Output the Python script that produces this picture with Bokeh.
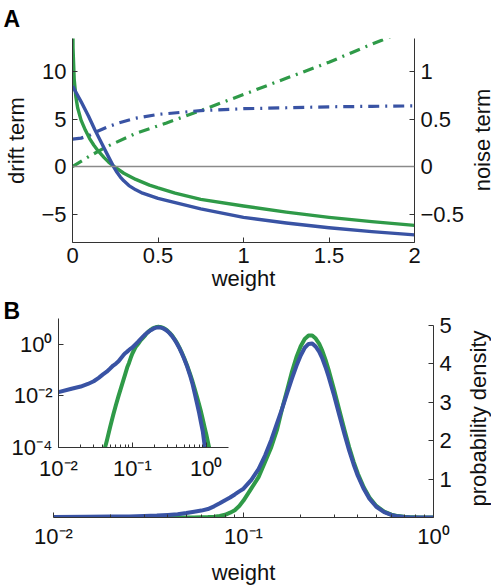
import math
from bokeh.plotting import figure
from bokeh.models import Range1d, LinearAxis, FixedTicker, Span
from bokeh.embed import file_html
from bokeh.resources import INLINE

# ---------------- data: panel A (drift / noise terms vs weight) ----------------
xa_drift_green = [0.0, 0.003, 0.01, 0.02, 0.03, 0.05, 0.075, 0.1, 0.125, 0.15, 0.185, 0.21,
                  0.24, 0.3, 0.37, 0.45, 0.5, 0.6, 0.75, 1.0, 1.25, 1.5, 1.75, 2.0]
drift_green = [20, 12.5, 9.2, 7.3, 6.2, 4.9, 3.85, 2.95, 2.25, 1.65, 0.95, 0.5,
               0.05, -0.7, -1.35, -1.95, -2.25, -2.8, -3.45, -4.15, -4.8, -5.35, -5.8, -6.2]

xa_drift_blue = [0.0, 0.05, 0.094, 0.13, 0.172, 0.21, 0.24, 0.26, 0.28, 0.3, 0.33, 0.37,
                 0.41, 0.5, 0.565, 0.75, 1.0, 1.25, 1.5, 1.75, 2.0]
drift_blue = [8.5, 6.85, 5.3, 3.9, 2.4, 1.05, 0.0, -0.6, -1.1, -1.5, -2.0, -2.45,
              -2.8, -3.35, -3.65, -4.45, -5.35, -5.95, -6.45, -6.85, -7.2]

xa_noise_blue = [0.0, 0.05, 0.1, 0.15, 0.2, 0.27, 0.37, 0.5, 0.75, 1.0, 1.25, 1.5, 1.75, 2.0]
noise_blue = [0.29, 0.30, 0.33, 0.375, 0.415, 0.46, 0.51, 0.55, 0.59, 0.61, 0.62, 0.63, 0.635, 0.64]

xa_noise_green = [0.0, 0.1, 0.2, 0.37, 0.55, 0.75, 1.0, 1.25, 1.5, 1.75, 2.0]
noise_green = [0.0, 0.11, 0.21, 0.35, 0.46, 0.59, 0.76, 0.93, 1.1, 1.29, 1.47]

a_x_ticks = [0, 0.5, 1, 1.5, 2]
a_left_ticks = [-5, 0, 5, 10]
a_left_labels = {-5: "\u22125", 0: "0", 5: "5", 10: "10"}
a_right_ticks = [-0.5, 0, 0.5, 1]
a_right_labels = {-0.5: "\u22120.5", 0: "0", 0.5: "0.5", 1: "1"}

# ---------------- data: panel B (probability density vs weight) ----------------
w_b = [0.01, 0.015, 0.02, 0.025, 0.03, 0.035, 0.04, 0.045, 0.05, 0.055, 0.06, 0.065, 0.07,
       0.075, 0.08, 0.085, 0.09, 0.095, 0.1, 0.11, 0.12, 0.13, 0.14, 0.15, 0.16, 0.17, 0.18,
       0.19, 0.2, 0.21, 0.22, 0.23, 0.24, 0.25, 0.26, 0.27, 0.28, 0.3, 0.32, 0.34, 0.36, 0.38,
       0.4, 0.43, 0.46, 0.5, 0.55, 0.6, 0.65, 0.7, 0.75, 0.8, 0.85, 0.9, 0.95, 1.0, 1.05, 1.1,
       1.2, 1.5, 2.0]
dens_green = [1e-12, 1e-10, 1e-8, 2e-7, 1.5e-6, 1e-5, 5e-5, 1.8e-4, 6.2e-4, 1.8e-3, 4.5e-3, 1.0e-2, 0.020,
              0.038, 0.07, 0.125, 0.19, 0.30, 0.44, 0.76, 1.05, 1.45, 1.83, 2.28, 2.85, 3.33, 3.80,
              4.18, 4.46, 4.65, 4.74, 4.74, 4.66, 4.53, 4.34, 4.11, 3.86, 3.32, 2.78, 2.28, 1.83, 1.45,
              1.14, 0.78, 0.52, 0.30, 0.152, 0.075, 0.037, 0.018, 9e-3, 4.6e-3, 2.4e-3, 1.2e-3, 6e-4, 3.3e-4, 1.7e-4, 9.2e-5,
              2.8e-5, 9e-7, 5e-9]
dens_blue = [0.014, 0.019, 0.023, 0.029, 0.037, 0.050, 0.068, 0.087, 0.115, 0.15, 0.18, 0.22, 0.29,
             0.37, 0.45, 0.52, 0.60, 0.68, 0.75, 0.98, 1.26, 1.62, 2.02, 2.45, 2.85, 3.25, 3.62,
             3.95, 4.22, 4.42, 4.52, 4.53, 4.45, 4.32, 4.14, 3.92, 3.68, 3.17, 2.65, 2.17, 1.74, 1.38,
             1.08, 0.74, 0.49, 0.28, 0.14, 0.066, 0.030, 0.012, 5e-3, 2.2e-3, 9e-4, 4e-4, 1.2e-4, 5e-5, 1.5e-5, 3e-6,
             2e-7, 1e-10, 1e-14]

b_x_ticks = [0.01, 0.1, 1]
b_x_labels = {0.01: "10\u207b\u00b2", 0.1: "10\u207b\u00b9", 1: "10\u2070"}
b_x_minor = [0.02, 0.03, 0.04, 0.05, 0.06, 0.07, 0.08, 0.09, 0.2, 0.3, 0.4, 0.5, 0.6, 0.7, 0.8, 0.9]
b_y_ticks = [1, 2, 3, 4, 5]
in_y_ticks = [1e-4, 1e-2, 1]
in_y_labels = {1e-4: "10\u207b\u2074", 1e-2: "10\u207b\u00b2", 1: "10\u2070"}

# ---------------- style ----------------
GREEN = "#2f9a48"
BLUE = "#3953a4"
FONT = "Liberation Sans"
TICK_FS = "22px"
LAB_FS = "22px"
AX_COL = "#333333"
TXT = "#111111"


def style_axis(ax, ticks, overrides=None, minor=None, label_standoff=6, axis_standoff=6):
    ax.ticker = FixedTicker(ticks=ticks, minor_ticks=minor or [])
    ax.major_tick_in = 5
    ax.major_tick_out = 0
    ax.minor_tick_in = 3
    ax.minor_tick_out = 0
    ax.minor_tick_line_color = AX_COL if minor else None
    ax.axis_line_color = AX_COL
    ax.major_tick_line_color = AX_COL
    ax.major_label_text_font = FONT
    ax.major_label_text_font_size = TICK_FS
    ax.major_label_text_color = TXT
    ax.major_label_standoff = label_standoff
    ax.axis_label_text_font = FONT
    ax.axis_label_text_font_size = LAB_FS
    ax.axis_label_text_font_style = "normal"
    ax.axis_label_text_color = TXT
    ax.axis_label_standoff = axis_standoff
    if overrides:
        ax.major_label_overrides = overrides


def panel_title(p, text, offset, standoff):
    p.title.text = text
    p.title.align = "left"
    p.title.offset = offset
    p.title.standoff = standoff
    p.title.text_font = FONT
    p.title.text_font_size = "23px"
    p.title.text_font_style = "bold"
    p.title.text_color = "#000000"
    p.title.vertical_align = "top"


def side_text(text, left, top, height, width=28):
    # a right-hand axis caption that reads bottom-to-top, centred on the plot frame
    f = figure(width=width, height=height, output_backend="svg", toolbar_location=None,
               x_axis_location=None, y_axis_location=None, min_border=0,
               title=text, title_location="left",
               x_range=Range1d(0, 1), y_range=Range1d(0, 1))
    f.grid.visible = False
    f.outline_line_color = None
    f.background_fill_color = None
    f.border_fill_color = None
    f.title.align = "center"
    f.title.standoff = 0
    f.title.text_font = FONT
    f.title.text_font_size = LAB_FS
    f.title.text_font_style = "normal"
    f.title.text_color = TXT
    f.styles = {"position": "absolute", "left": f"{left}px", "top": f"{top}px",
                "width": f"{width}px", "height": f"{height}px", "z-index": "20"}
    return f


def base(p):
    p.outline_line_color = None
    p.grid.visible = False
    p.background_fill_color = "white"
    p.border_fill_color = "white"


# ---------------- panel A ----------------
pA = figure(width=495, height=297, output_backend="svg", toolbar_location=None,
            x_range=Range1d(0, 2), y_range=Range1d(-8, 13.5),
            min_border_left=72, min_border_right=81, min_border_top=37, min_border_bottom=55)
base(pA)
panel_title(pA, "A", -69, 10)
pA.extra_y_ranges = {"noise": Range1d(-0.8, 1.35)}
style_axis(pA.xaxis[0], a_x_ticks, label_standoff=5, axis_standoff=0)
pA.xaxis[0].axis_label = "weight"
style_axis(pA.yaxis[0], a_left_ticks, a_left_labels, axis_standoff=9)
pA.yaxis[0].axis_label = "drift term"
axR = LinearAxis(y_range_name="noise")
style_axis(axR, a_right_ticks, a_right_labels)
pA.add_layout(axR, "right")

pA.add_layout(Span(location=0, dimension="width", line_color="#8a8a8a", line_width=1.5))

pA.line(xa_noise_green, noise_green, y_range_name="noise", line_color=GREEN, line_width=3.2,
        line_dash="11 6 2 6", line_cap="butt")
pA.line(xa_noise_blue, noise_blue, y_range_name="noise", line_color=BLUE, line_width=3.2,
        line_dash="11 6 2 6", line_cap="butt")
pA.line(xa_drift_green, drift_green, line_color=GREEN, line_width=3.4, line_join="round")
pA.line(xa_drift_blue, drift_blue, line_color=BLUE, line_width=3.4, line_join="round")

# ---------------- panel B ----------------
pB = figure(width=495, height=290, output_backend="svg", toolbar_location=None,
            x_axis_type="log", y_axis_location="right",
            x_range=Range1d(0.01, 1), y_range=Range1d(0, 5),
            min_border_left=53, min_border_right=62, min_border_top=27, min_border_bottom=69)
base(pB)
panel_title(pB, "B", -50, 0)
style_axis(pB.xaxis[0], b_x_ticks, b_x_labels, b_x_minor, label_standoff=6, axis_standoff=8)
pB.xaxis[0].axis_label = "weight"
style_axis(pB.yaxis[0], b_y_ticks)
pB.line(w_b, dens_green, line_color=GREEN, line_width=4, line_join="round")
pB.line(w_b, dens_blue, line_color=BLUE, line_width=4, line_join="round")

# ---------------- inset (log-log) ----------------
pI = figure(width=230, height=179, output_backend="svg", toolbar_location=None,
            x_axis_type="log", y_axis_type="log",
            x_range=Range1d(0.01, 2.0), y_range=Range1d(1e-4, 10),
            min_border_left=49, min_border_right=10, min_border_top=6, min_border_bottom=44)
pI.outline_line_color = None
pI.grid.visible = False
pI.background_fill_color = None
pI.border_fill_color = None
style_axis(pI.xaxis[0], b_x_ticks, b_x_labels, b_x_minor, label_standoff=8)
style_axis(pI.yaxis[0], in_y_ticks, in_y_labels)
pI.line(w_b, dens_green, line_color=GREEN, line_width=4, line_join="round")
pI.line(w_b, dens_blue, line_color=BLUE, line_width=4, line_join="round")
pI.styles = {"position": "absolute", "left": "8px", "top": "312px",
             "width": "230px", "height": "179px", "z-index": "10"}

# ---------------- right-hand axis captions ----------------
capA = side_text("noise term", 467, 37, 205)
capB = side_text("probability density", 463, 321, 194)

open("out.html", "w").write(file_html([pA, pB, pI, capA, capB], INLINE))
